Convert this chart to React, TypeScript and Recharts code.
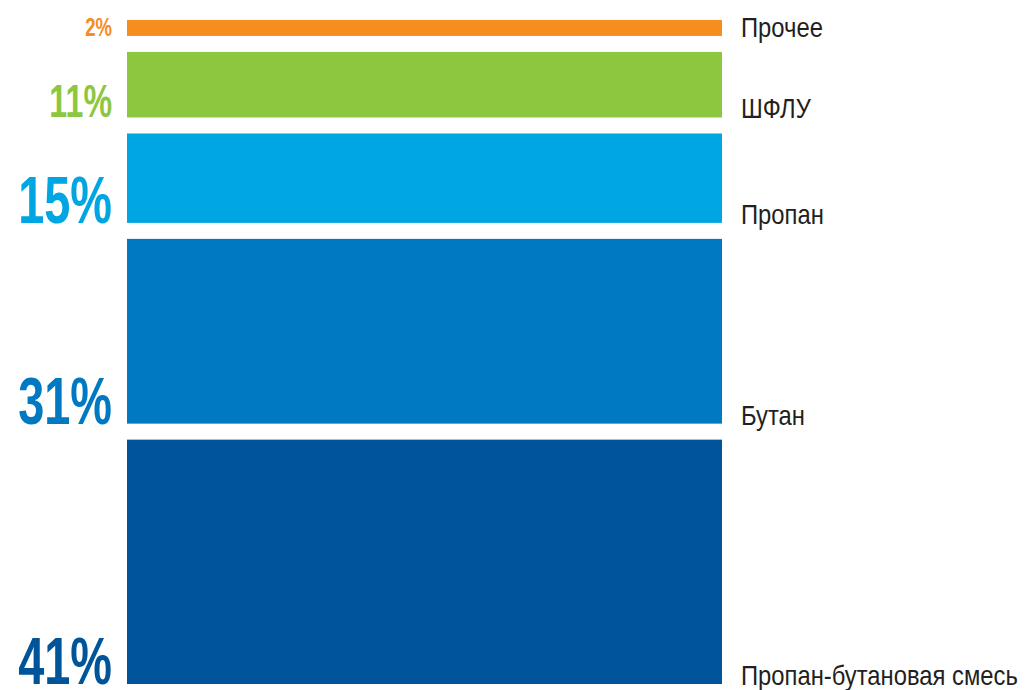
import { BarChart, Bar, XAxis, YAxis, LabelList } from 'recharts';

// segments from bottom to top
const categories = ['Пропан-бутановая смесь', 'Бутан', 'Пропан', 'ШФЛУ', 'Прочее'];
const shares = [41, 31, 15, 11, 2];
const colors = ['#00559A', '#0079C2', '#00A6E2', '#8DC63F', '#F68D1F'];

const FONT = "'Liberation Sans', Arial, sans-serif";
const GAP = 16; // white gap between segments, px
const MIN_H = 16; // smallest visible segment, px

const row: Record<string, string | number> = { name: 'Структура' };
categories.forEach((c, i) => {
  row[c] = shares[i];
});
const data = [row];

// every segment is moved up by the gaps below it
function segmentBox(i: number, x: number, y: number, width: number, height: number) {
  const bottom = y + height - i * GAP;
  const h = Math.max(height, MIN_H);
  return { x, y: bottom - h, width, height: h, bottom };
}

const renderShape = (i: number) => (props: any) => {
  const { x, y, width, height, fill } = props;
  const seg = segmentBox(i, x, y, width, height);
  return <rect x={seg.x} y={seg.y} width={seg.width} height={seg.height} fill={fill} />;
};

// condensed look: no narrow face installed, so squeeze horizontally
const renderLabel = (i: number) => (props: any) => {
  const { x, y, width, height } = props.viewBox;
  const seg = segmentBox(i, x, y, width, height);
  const fs = seg.height < 30 ? 26.5 : seg.height < 80 ? 46 : 67;
  return (
    <g>
      <text
        transform={`translate(${x - 15}, ${seg.bottom}) scale(0.7, 1)`}
        textAnchor="end"
        fill={colors[i]}
        fontSize={fs}
        fontWeight="bold"
        fontFamily={FONT}
      >
        {`${shares[i]}%`}
      </text>
      <text
        transform={`translate(${x + width + 19}, ${seg.bottom + 1}) scale(0.85, 1)`}
        fontSize={28}
        fill="#231F20"
        fontFamily={FONT}
      >
        {categories[i]}
      </text>
    </g>
  );
};

export default function App() {
  return (
    <div style={{ position: 'absolute', left: 0, top: 0, width: 1026, height: 690, background: '#fff' }}>
      <BarChart
        width={1026}
        height={690}
        data={data}
        margin={{ top: 88, right: 304, bottom: 6, left: 127 }}
        barCategoryGap={0}
      >
        <XAxis dataKey="name" hide />
        <YAxis type="number" domain={[0, 100]} hide />
        {categories.map((c, i) => (
          <Bar
            key={c}
            dataKey={c}
            stackId="s"
            fill={colors[i]}
            shape={renderShape(i)}
            isAnimationActive={false}
          >
            <LabelList dataKey={c} content={renderLabel(i)} />
          </Bar>
        ))}
      </BarChart>
    </div>
  );
}
